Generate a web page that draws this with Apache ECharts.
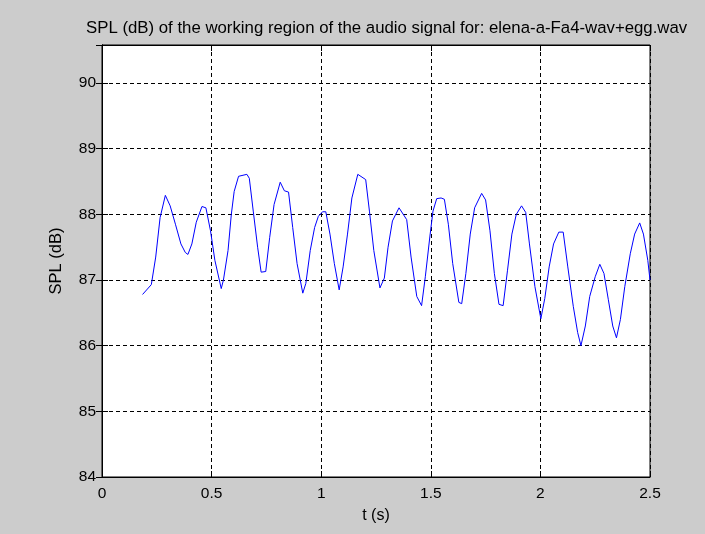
<!DOCTYPE html>
<html>
<head>
<meta charset="utf-8">
<script src="https://cdn.jsdelivr.net/npm/echarts@6/dist/echarts.min.js"></script>
<style>
html,body{margin:0;padding:0;background:#cccccc;}
#c{width:705px;height:534px;}
</style>
</head>
<body>
<div id="c"></div>
<script>
var titleText = 'SPL (dB) of the working region of the audio signal for: elena-a-Fa4-wav+egg.wav';
var xLabel = 't (s)';
var yLabel = 'SPL (dB)';
var tValues = [0.185,0.225,0.245,0.265,0.289,0.311,0.335,0.36,0.38,0.392,0.41,0.43,0.456,0.474,0.495,0.515,0.544,0.554,0.575,0.59,0.603,0.623,0.661,0.672,0.69,0.71,0.726,0.747,0.765,0.785,0.813,0.832,0.851,0.87,0.89,0.916,0.93,0.95,0.97,0.987,1.006,1.021,1.04,1.06,1.082,1.1,1.12,1.14,1.167,1.203,1.22,1.24,1.268,1.288,1.305,1.325,1.355,1.39,1.41,1.436,1.458,1.475,1.496,1.51,1.527,1.547,1.562,1.58,1.6,1.628,1.641,1.66,1.68,1.7,1.732,1.75,1.77,1.79,1.811,1.83,1.85,1.87,1.89,1.914,1.933,1.95,1.975,2.002,2.02,2.04,2.06,2.084,2.104,2.125,2.15,2.17,2.185,2.205,2.225,2.25,2.271,2.29,2.31,2.33,2.347,2.365,2.385,2.41,2.43,2.453,2.47,2.49,2.5];
var splValues = [86.78,86.93,87.35,87.95,88.29,88.13,87.85,87.55,87.42,87.39,87.55,87.88,88.12,88.10,87.75,87.3,86.87,87.0,87.45,88.0,88.35,88.58,88.61,88.55,88.05,87.5,87.12,87.13,87.65,88.15,88.49,88.36,88.34,87.8,87.25,86.80,86.95,87.45,87.8,87.97,88.04,88.04,87.7,87.25,86.85,87.2,87.7,88.25,88.61,88.53,88.05,87.45,86.88,87.03,87.5,87.9,88.10,87.92,87.35,86.75,86.61,87.05,87.67,88.05,88.24,88.25,88.23,87.85,87.25,86.66,86.64,87.1,87.7,88.1,88.32,88.22,87.75,87.1,86.63,86.61,87.15,87.7,88.0,88.13,88.03,87.55,86.9,86.41,86.72,87.2,87.55,87.73,87.73,87.2,86.6,86.2,86.0,86.3,86.75,87.05,87.24,87.1,86.7,86.3,86.12,86.4,86.9,87.4,87.7,87.87,87.7,87.3,87.0];
var xMin = 0, xMax = 2.5, xStep = 0.5;
var yMin = 84, yMax = 90.58, yStep = 1;

var data = tValues.map(function(t, i){ return [t, splValues[i]]; });
var font = 'Liberation Sans, Arial, sans-serif';
var chart = echarts.init(document.getElementById('c'));
var gridLine = {show:true, lineStyle:{color:'#000', type:[4,3], width:1}};
chart.setOption({
  backgroundColor:'#cccccc',
  animation:false,
  title:{text:titleText, left:86, top:20, padding:0, textStyle:{fontFamily:font, fontSize:16.8, fontWeight:'normal', color:'#000'}},
  grid:{left:102, right:55, top:45, bottom:57, show:true, backgroundColor:'#fff', borderColor:'#000', borderWidth:1},
  xAxis:[{
    type:'value', min:xMin, max:xMax, interval:xStep, position:'bottom',
    name:xLabel, nameLocation:'middle', nameGap:31,
    nameTextStyle:{fontFamily:font, fontSize:16, color:'#000'},
    axisLine:{show:true, lineStyle:{color:'#000'}},
    axisTick:{show:true, inside:true, length:6, lineStyle:{color:'#000'}},
    axisLabel:{fontFamily:font, fontSize:15.5, color:'#000', margin:9},
    splitLine:gridLine
  },{
    type:'value', min:xMin, max:xMax, interval:xStep, position:'top',
    axisLine:{show:true, lineStyle:{color:'#000'}},
    axisTick:{show:true, inside:true, length:6, lineStyle:{color:'#000'}},
    axisLabel:{show:false}, splitLine:{show:false}
  }],
  yAxis:[{
    type:'value', min:yMin, max:yMax, interval:yStep, position:'left',
    name:yLabel, nameLocation:'middle', nameGap:37, nameRotate:90,
    nameTextStyle:{fontFamily:font, fontSize:16.5, color:'#000'},
    axisLine:{show:true, lineStyle:{color:'#000'}},
    axisTick:{show:true, inside:true, length:6, lineStyle:{color:'#000'}},
    axisLabel:{fontFamily:font, fontSize:15.5, color:'#000', margin:6, showMaxLabel:false},
    splitLine:gridLine
  },{
    type:'value', min:yMin, max:yMax, interval:yStep, position:'right',
    axisLine:{show:true, lineStyle:{color:'#000'}},
    axisTick:{show:true, inside:true, length:6, lineStyle:{color:'#000'}},
    axisLabel:{show:false}, splitLine:{show:false}
  }],
  series:[{
    type:'line', data:data, xAxisIndex:0, yAxisIndex:0,
    showSymbol:false, symbol:'none', smooth:false,
    lineStyle:{color:'#0000ff', width:1}
  }]
});
</script>
</body>
</html>
